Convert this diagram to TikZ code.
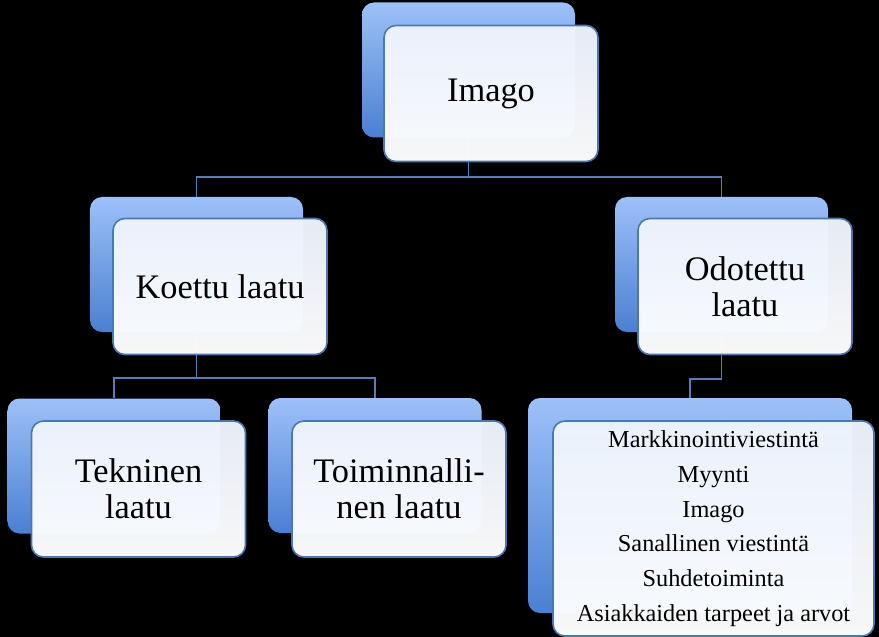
\documentclass[tikz,border=0pt]{standalone}
\usepackage{fontspec}
\setmainfont{Liberation Serif}
\usetikzlibrary{positioning}
\definecolor{lnblue}{HTML}{4F7FBF}
\definecolor{shtop}{HTML}{9DC0F8}
\definecolor{shbot}{HTML}{4A80D2}
\definecolor{crdtop}{HTML}{EEF3FC}
\definecolor{crdrim}{HTML}{4A78B4}
\pgfdeclarelayer{bg}
\pgfdeclarelayer{wires}
\pgfsetlayers{bg,wires,main}
\tikzset{
  shd/.style={rounded corners=12bp, top color=shtop, bottom color=shbot, minimum width=213bp, minimum height=135bp, inner sep=0pt},
  crd/.style={draw=crdrim, line width=1.6bp, rounded corners=12bp, top color=crdtop, bottom color=white, fill opacity=0.97, text opacity=1, minimum width=214bp, minimum height=136bp, inner sep=0pt, align=center, font=\fontsize{34.5}{36}\selectfont},
  lnk/.style={draw=lnblue, line width=1.6bp}
}

\begin{document}
\begin{tikzpicture}[x=1bp, y=1bp]
		\begin{pgfonlayer}{bg}
			\fill[black] (0,0) rectangle (879,-637);
		\end{pgfonlayer}
		\useasboundingbox (0,0) rectangle (879,-637);
		\node[shd] (imgS) at (468.5,-70) {};
		\node[crd] (imgC) at (491,-93.5) {Imago};
		\node[shd] (koeS) at (196.5,-264.5) {};
		\node[crd] (koeC) at (220,-286.5) {Koettu laatu};
		\node[shd] (odoS) at (721.5,-264.5) {};
		\node[crd] (odoC) at (745,-286.5) {Odotettu\\laatu};
		\node[shd] (tekS) at (114,-466) {};
		\node[crd] (tekC) at (138.5,-489) {Tekninen\\laatu};
		\node[shd] (toiS) at (375,-465.5) {};
		\node[crd] (toiC) at (399,-489) {Toiminnalli-\\nen laatu};
		\node[shd, minimum width=324bp, minimum height=215bp] (lstS) at (690,-505.5) {};
		\node[crd, minimum width=321bp, minimum height=215bp, font=\fontsize{24.4}{34.8}\selectfont] (lstC) at (713.5,-528.5)
			{Markkinointiviestintä\\Myynti\\Imago\\Sanallinen viestintä\\Suhdetoiminta\\Asiakkaiden tarpeet ja arvot};
		\begin{pgfonlayer}{wires}
			\draw[lnk] (imgS.center) -- ++(0,-107) coordinate (j1) -| (koeS.north);
			\draw[lnk] (j1) -| (odoS.north);
			\draw[lnk] (koeS.center) -- ++(0,-113.5) coordinate (j2) -| (tekS.north);
			\draw[lnk] (j2) -| (toiS.north);
			\draw[lnk] (odoS.center) -- ++(0,-114.5) -| (lstS.north);
		\end{pgfonlayer}
	\end{tikzpicture}
\end{document}
